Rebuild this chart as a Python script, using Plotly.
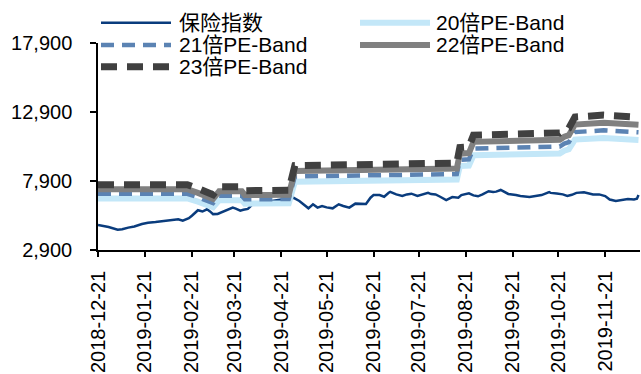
import plotly.graph_objects as go

# ---- data -------------------------------------------------------------
index_dates = [
    '2018-12-21', '2018-12-24', '2018-12-28', '2019-01-03', '2019-01-06', '2019-01-10',
    '2019-01-14', '2019-01-19', '2019-01-23', '2019-01-28', '2019-02-01', '2019-02-07',
    '2019-02-12', '2019-02-15', '2019-02-19', '2019-02-21', '2019-02-23', '2019-02-25',
    '2019-02-28', '2019-03-03', '2019-03-05', '2019-03-07', '2019-03-10', '2019-03-12',
    '2019-03-14', '2019-03-17', '2019-03-20', '2019-03-22', '2019-03-25', '2019-03-27',
    '2019-03-30', '2019-04-02', '2019-04-06', '2019-04-11', '2019-04-15', '2019-04-20',
    '2019-04-26', '2019-04-29', '2019-05-03', '2019-05-07', '2019-05-09', '2019-05-12',
    '2019-05-15', '2019-05-18', '2019-05-21', '2019-05-25', '2019-05-29', '2019-06-01',
    '2019-06-05', '2019-06-09', '2019-06-14', '2019-06-16', '2019-06-19', '2019-06-21',
    '2019-06-25', '2019-06-28', '2019-07-01', '2019-07-02', '2019-07-06', '2019-07-08',
    '2019-07-10', '2019-07-13', '2019-07-16', '2019-07-20', '2019-07-23', '2019-07-27',
    '2019-07-29', '2019-08-01', '2019-08-04', '2019-08-08', '2019-08-12', '2019-08-16',
    '2019-08-18', '2019-08-21', '2019-08-23', '2019-08-26', '2019-08-29', '2019-09-01',
    '2019-09-05', '2019-09-08', '2019-09-10', '2019-09-13', '2019-09-15', '2019-09-18',
    '2019-09-23', '2019-09-26', '2019-10-02', '2019-10-06', '2019-10-10', '2019-10-15',
    '2019-10-16', '2019-10-20', '2019-10-24', '2019-10-27', '2019-10-30', '2019-11-02',
    '2019-11-07', '2019-11-13', '2019-11-17', '2019-11-21', '2019-11-24', '2019-11-28',
    '2019-12-03', '2019-12-06', '2019-12-10', '2019-12-12', '2019-12-13',
]
index_values = [
    4710, 4660, 4560, 4370, 4400, 4520,
    4600, 4780, 4880, 4930, 4970, 5030,
    5130, 5020, 5200, 5380, 5550, 5780,
    5690, 5850, 5700, 5500, 5510, 5600,
    5740, 5880, 5970, 5900, 5750, 5810,
    5880, 6200, 6350, 6500, 6450, 6550,
    6600, 6690, 6450, 6090, 5920, 6210,
    5970, 6090, 5990, 5920, 6210, 6090,
    5970, 6260, 6200, 6230, 6690, 6880,
    6880, 6760, 7050, 7110, 6930, 6880,
    6810, 6930, 6980, 6820, 6930, 7040,
    6950, 6930, 6760, 6520, 6740, 6690,
    6880, 6930, 7010, 6860, 6790, 6930,
    7160, 7110, 7130, 7250, 7150, 6960,
    6880, 6810, 6740, 6830, 6880, 7090,
    7040, 7000, 6930, 6820, 6900, 7040,
    7090, 6930, 6930, 6810, 6560, 6450,
    6560, 6590, 6560, 6620, 6880,
]

# earnings per index point used for the PE bands
eps_dates = [
    '2018-12-21', '2019-02-18', '2019-02-25', '2019-03-07', '2019-03-11', '2019-03-26',
    '2019-03-28', '2019-04-26', '2019-04-30', '2019-08-15', '2019-08-17', '2019-08-23',
    '2019-08-26', '2019-10-22', '2019-10-25', '2019-10-28', '2019-11-01', '2019-11-20',
    '2019-12-13',
]
eps_values = [
    332, 332, 320, 300, 325, 325,
    313, 314, 392, 400, 449, 451,
    488, 495, 505, 510, 545, 551,
    544,
]
pe_multiples = [20, 21, 22, 23]

tick_dates = [
    '2018-12-21', '2019-01-21', '2019-02-21', '2019-03-21', '2019-04-21', '2019-05-21',
    '2019-06-21', '2019-07-21', '2019-08-21', '2019-09-21', '2019-10-21', '2019-11-21',
]
y_ticks = [2900, 7900, 12900, 17900]

index_name = '保险指数'
band_names = [f'{m}倍PE-Band' for m in pe_multiples]

# ---- styles ------------------------------------------------------------
index_style = dict(color='#0A3C7D', width=2.5)
band_styles = [
    dict(color='#C3E7F8', width=6),
    dict(color='#5B83B3', width=4.5, dash='13px,8px'),
    dict(color='#808080', width=6),
    dict(color='#404040', width=7, dash='16px,10px'),
]

FONT = 'Liberation Sans, Arial, Noto Sans CJK SC, sans-serif'

fig = go.Figure()
fig.add_trace(go.Scatter(x=index_dates, y=index_values, mode='lines',
                         name=index_name, line=index_style))
for m, name, style in zip(pe_multiples, band_names, band_styles):
    fig.add_trace(go.Scatter(x=eps_dates, y=[e * m for e in eps_values], mode='lines',
                             name=name, line=style))

# ---- layout ------------------------------------------------------------
W, H = 641, 374
L, R, T, B = 98, 1, 43, 121
plot_w, plot_h = W - L - R, H - T - B


def px_x(x):
    return (x - L) / plot_w


def px_y(y):
    return (H - B - y) / plot_h


# hand-placed two-column legend
legend_items = [
    (index_name, index_style, 101, 171, 177, 22.5),
    (band_names[0], band_styles[0], 360, 430, 434, 22.5),
    (band_names[1], band_styles[1], 101, 171, 177, 45),
    (band_names[2], band_styles[2], 360, 430, 434, 45),
    (band_names[3], band_styles[3], 101, 171, 177, 67),
]
shapes, annotations = [], []
for text, style, x0, x1, tx, y in legend_items:
    shapes.append(dict(type='line', xref='paper', yref='paper',
                       x0=px_x(x0), x1=px_x(x1), y0=px_y(y), y1=px_y(y),
                       line=dict(color=style['color'], width=style['width'],
                                 dash=style.get('dash', 'solid'))))
    annotations.append(dict(text=text, xref='paper', yref='paper', x=px_x(tx), y=px_y(y),
                            xanchor='left', yanchor='middle', showarrow=False,
                            font=dict(family=FONT, size=21, color='#000000')))

fig.update_layout(
    width=W, height=H,
    margin=dict(l=L, r=R, t=T, b=B, pad=0),
    paper_bgcolor='white', plot_bgcolor='white',
    showlegend=False,
    font=dict(family=FONT, size=20, color='#000000'),
    shapes=shapes, annotations=annotations,
    xaxis=dict(type='date', range=['2018-12-21', '2019-12-14'],
               tickvals=tick_dates, ticktext=tick_dates, tickangle=-90,
               ticks='outside', ticklen=5, tickwidth=1.5, tickcolor='#000000',
               showline=True, linecolor='#000000', linewidth=1.5,
               showgrid=False, zeroline=False, ticklabelstandoff=6,
               tickfont=dict(family=FONT, size=20, color='#000000')),
    yaxis=dict(range=[2900, 17900], tickvals=y_ticks, tickformat=',d',
               ticks='outside', ticklen=6, tickwidth=1.5, tickcolor='#000000',
               showline=True, linecolor='#000000', linewidth=1.5,
               showgrid=False, zeroline=False, ticklabelstandoff=14,
               tickfont=dict(family=FONT, size=20, color='#000000')),
)

fig.write_html('out.html')
